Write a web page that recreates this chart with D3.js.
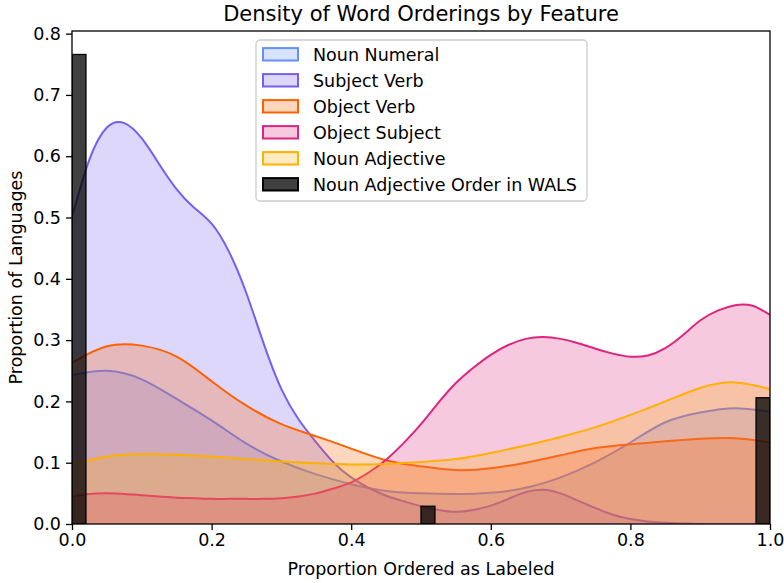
<!DOCTYPE html>
<html>
<head>
<meta charset="utf-8">
<script src="https://cdn.jsdelivr.net/npm/d3@7"></script>
<style>
  html, body { margin: 0; padding: 0; background: #fff; }
  svg { display: block; font-family: "DejaVu Sans", sans-serif; }
</style>
</head>
<body>
<div class="visHolder"></div>
<script>
const w = 784, h = 583;
const margin = {top: 31, right: 14, bottom: 59, left: 72};

const xCoarse = [0, 0.05, 0.1, 0.15, 0.2, 0.25, 0.3, 0.35, 0.4, 0.45, 0.5,
                 0.55, 0.6, 0.65, 0.7, 0.75, 0.8, 0.85, 0.9, 0.95, 1.0];
const xFine = [0, 0.025, 0.05, 0.075, 0.1, 0.125, 0.15, 0.175, 0.2, 0.225, 0.25,
               0.275, 0.3, 0.325, 0.35, 0.375, 0.4, 0.425, 0.45, 0.475, 0.5,
               0.525, 0.55, 0.575, 0.6, 0.625, 0.65, 0.675, 0.7, 0.725, 0.75,
               0.775, 0.8, 0.825, 0.85, 0.875, 0.9, 0.925, 0.95, 0.975, 1.0];

const seriesNames = ['Noun Numeral', 'Subject Verb', 'Object Verb', 'Object Subject', 'Noun Adjective'];
const seriesColors = ['#648FFF', '#785EF0', '#FE6100', '#DC267F', '#FFB000'];

const nounNumeral   = [0.243, 0.250, 0.236, 0.204, 0.169, 0.131, 0.102, 0.081, 0.065, 0.054, 0.050,
                       0.049, 0.051, 0.059, 0.076, 0.101, 0.133, 0.166, 0.182, 0.189, 0.183];
const subjectVerb   = [0.501, 0.595, 0.647, 0.654, 0.629, 0.587, 0.546, 0.516, 0.490, 0.444, 0.376,
                       0.293, 0.220, 0.170, 0.133, 0.100, 0.076, 0.059, 0.046, 0.037, 0.029,
                       0.023, 0.020, 0.023, 0.030, 0.041, 0.052, 0.056, 0.050, 0.038, 0.026,
                       0.015, 0.008, 0.004, 0.002, 0.001, 0.000, 0.000, 0.000, 0.000, 0.000];
const objectVerb    = [0.263, 0.290, 0.291, 0.273, 0.233, 0.193, 0.163, 0.143, 0.123, 0.104, 0.094,
                       0.088, 0.091, 0.100, 0.112, 0.124, 0.130, 0.135, 0.139, 0.140, 0.133];
const objectSubject = [0.045, 0.049, 0.050, 0.049, 0.047, 0.045, 0.043, 0.042, 0.041, 0.041, 0.041,
                       0.041, 0.042, 0.045, 0.050, 0.058, 0.068, 0.084, 0.105, 0.132, 0.163,
                       0.198, 0.230, 0.255, 0.276, 0.292, 0.302, 0.305, 0.302, 0.295, 0.286,
                       0.278, 0.273, 0.275, 0.287, 0.308, 0.332, 0.348, 0.357, 0.356, 0.341];
const nounAdjective = [0.097, 0.110, 0.114, 0.113, 0.110, 0.106, 0.102, 0.099, 0.097, 0.098, 0.101,
                       0.106, 0.116, 0.128, 0.142, 0.158, 0.178, 0.200, 0.222, 0.231, 0.220];
const seriesValues = [nounNumeral, subjectVerb, objectVerb, objectSubject, nounAdjective];
const seriesX = [xCoarse, xFine, xCoarse, xFine, xCoarse];

// WALS histogram (bins of width 0.02)
const histLabel = 'Noun Adjective Order in WALS';
const binWidth = 0.02;
const binStarts = [0, 0.5, 0.98];
const binHeights = [0.766, 0.029, 0.206];

const xTicks = [0, 0.2, 0.4, 0.6, 0.8, 1.0];
const yTicks = [0, 0.1, 0.2, 0.3, 0.4, 0.5, 0.6, 0.7, 0.8];

const svg = d3.select('.visHolder')
  .append('svg')
  .attr('width', w)
  .attr('height', h);

const xScale = d3.scaleLinear()
  .domain([0, 1])
  .range([margin.left, w - margin.right]);

const yScale = d3.scaleLinear()
  .domain([0, 0.766 * 1.05])
  .range([h - margin.bottom, margin.top]);

svg.append('clipPath')
  .attr('id', 'plotClip')
  .append('rect')
  .attr('x', margin.left)
  .attr('y', margin.top)
  .attr('width', w - margin.left - margin.right)
  .attr('height', h - margin.top - margin.bottom);

const plot = svg.append('g').attr('clip-path', 'url(#plotClip)');

const area = d3.area()
  .x(d => xScale(d[0]))
  .y0(yScale(0))
  .y1(d => yScale(d[1]))
  .curve(d3.curveNatural);

const line = d3.line()
  .x(d => xScale(d[0]))
  .y(d => yScale(d[1]))
  .curve(d3.curveNatural);

seriesValues.forEach((vals, i) => {
  const pts = seriesX[i].map((x, j) => [x, vals[j]]);
  const g = plot.append('g');
  g.append('path')
    .attr('d', area(pts))
    .attr('fill', seriesColors[i])
    .attr('fill-opacity', 0.25)
    .attr('stroke', 'none');
  g.append('path')
    .attr('d', line(pts))
    .attr('fill', 'none')
    .attr('stroke', seriesColors[i])
    .attr('stroke-width', 2);
});

plot.selectAll('rect.bar')
  .data(binStarts)
  .join('rect')
  .attr('class', 'bar')
  .attr('x', d => xScale(d))
  .attr('y', (d, i) => yScale(binHeights[i]))
  .attr('width', d => xScale(d + binWidth) - xScale(d))
  .attr('height', (d, i) => yScale(0) - yScale(binHeights[i]))
  .attr('fill', 'rgba(0,0,0,0.75)')
  .attr('stroke', '#000')
  .attr('stroke-width', 1.3);

// axes
const xAxis = d3.axisBottom(xScale)
  .tickValues(xTicks)
  .tickFormat(d3.format('.1f'))
  .tickSize(6)
  .tickPadding(4);
const yAxis = d3.axisLeft(yScale)
  .tickValues(yTicks)
  .tickFormat(d3.format('.1f'))
  .tickSize(6)
  .tickPadding(5);

const gx = svg.append('g')
  .attr('id', 'x-axis')
  .attr('transform', `translate(0, ${h - margin.bottom})`)
  .call(xAxis);
const gy = svg.append('g')
  .attr('id', 'y-axis')
  .attr('transform', `translate(${margin.left}, 0)`)
  .call(yAxis);

[gx, gy].forEach(g => {
  g.select('.domain').remove();
  g.selectAll('line').attr('stroke', '#000').attr('stroke-width', 1.3);
  g.selectAll('text').attr('font-size', 17.5).attr('fill', '#000')
    .attr('font-family', '"DejaVu Sans", sans-serif');
});

// frame
svg.append('rect')
  .attr('x', margin.left)
  .attr('y', margin.top)
  .attr('width', w - margin.left - margin.right)
  .attr('height', h - margin.top - margin.bottom)
  .attr('fill', 'none')
  .attr('stroke', '#000')
  .attr('stroke-width', 1.3);

// title and labels
svg.append('text')
  .attr('x', (margin.left + w - margin.right) / 2)
  .attr('y', 21)
  .attr('text-anchor', 'middle')
  .attr('font-size', 21)
  .text('Density of Word Orderings by Feature');

svg.append('text')
  .attr('x', (margin.left + w - margin.right) / 2)
  .attr('y', 574.5)
  .attr('text-anchor', 'middle')
  .attr('font-size', 17.5)
  .text('Proportion Ordered as Labeled');

svg.append('text')
  .attr('transform', `translate(22, ${(margin.top + h - margin.bottom) / 2}) rotate(-90)`)
  .attr('text-anchor', 'middle')
  .attr('font-size', 17.5)
  .text('Proportion of Languages');

// legend
const legend = svg.append('g').attr('transform', 'translate(256, 40)');
legend.append('rect')
  .attr('width', 331)
  .attr('height', 161)
  .attr('rx', 4)
  .attr('fill', 'rgba(255,255,255,0.8)')
  .attr('stroke', '#cccccc')
  .attr('stroke-width', 1.3);

const legendItems = seriesNames.map((n, i) => ({
  name: n, fill: seriesColors[i], fillOpacity: 0.25, stroke: seriesColors[i]
}));
legendItems.push({name: histLabel, fill: '#000', fillOpacity: 0.75, stroke: '#000'});

const rows = legend.selectAll('g.item')
  .data(legendItems)
  .join('g')
  .attr('class', 'item')
  .attr('transform', (d, i) => `translate(0, ${14.3 + 26 * i})`);

rows.append('rect')
  .attr('x', 7)
  .attr('y', -6.2)
  .attr('width', 35)
  .attr('height', 12.4)
  .attr('fill', d => d.fill)
  .attr('fill-opacity', d => d.fillOpacity)
  .attr('stroke', d => d.stroke)
  .attr('stroke-width', 2);

rows.append('text')
  .attr('x', 57)
  .attr('y', 6.5)
  .attr('font-size', 17.5)
  .text(d => d.name);
</script>
</body>
</html>
